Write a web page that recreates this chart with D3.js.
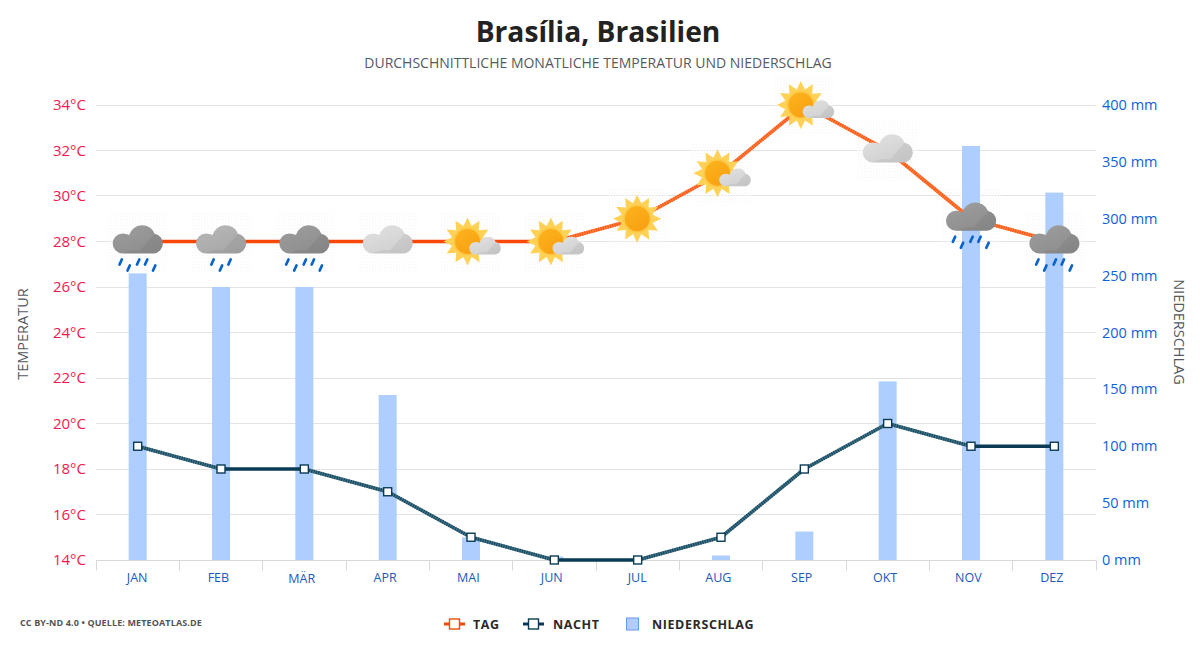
<!DOCTYPE html>
<html>
<head>
<meta charset="utf-8">
<script src="https://cdn.jsdelivr.net/npm/d3@7"></script>
<style>
  html, body { margin: 0; padding: 0; background: #fff; }
  text { font-family: "Open Sans", "Noto Sans", sans-serif; }
</style>
</head>
<body>
<div id="chart"></div>
<script>
var months = ["JAN", "FEB", "MÄR", "APR", "MAI", "JUN", "JUL", "AUG", "SEP", "OKT", "NOV", "DEZ"];
var dayTemp = [28, 28, 28, 28, 28, 28, 29, 31, 34, 32, 29, 28];
var nightTemp = [19, 18, 18, 17, 15, 14, 14, 15, 18, 20, 19, 19];
var rainfall = [252, 240, 240, 145, 20, 3, 0, 4, 25, 157, 364, 323];
var weather = ["rain5", "lightrain3", "rain5", "cloud", "partly", "partly", "sun", "partly", "partly", "cloud", "rain5", "rain5"];
var tempTicks = d3.range(14, 35, 2);
var rainTicks = d3.range(0, 401, 50);
var legendItems = ["TAG", "NACHT", "NIEDERSCHLAG"];

var width = 1200, height = 650;
var left = 96, right = 1096, top_ = 105, bottom = 560;

var svg = d3.select("#chart")
    .append("svg")
    .attr("width", width)
    .attr("height", height)
    .style("display", "block");

var defs = svg.append("defs");

function gradient(id, c1, c2) {
    var g = defs.append("linearGradient").attr("id", id)
        .attr("x1", 0).attr("y1", 0).attr("x2", 0.6).attr("y2", 1);
    g.append("stop").attr("offset", "0%").attr("stop-color", c1);
    g.append("stop").attr("offset", "100%").attr("stop-color", c2);
}
gradient("cloudDark", "#9e9e9e", "#8e8e8e");
gradient("cloudMid", "#b8b8b8", "#a8a8a8");
gradient("cloudLight", "#e2e2e2", "#d0d0d0");
gradient("sunDisc", "#fbb51e", "#f9a012");

// the faint dots behind each weather icon
var dots = defs.append("pattern").attr("id", "iconDots")
    .attr("width", 3).attr("height", 3).attr("patternUnits", "userSpaceOnUse");
dots.append("rect").attr("width", 1.5).attr("height", 1.5).attr("fill", "#f9f9f9");

var x = d3.scaleBand().domain(months).range([left, right]);
var yTemp = d3.scaleLinear().domain([14, 34]).range([bottom, top_]);
var yRain = d3.scaleLinear().domain([0, 400]).range([bottom, top_]);

// grid
svg.append("g")
    .selectAll("line")
    .data(tempTicks)
    .enter().append("line")
    .attr("x1", left)
    .attr("x2", right)
    .attr("y1", function(d) { return Math.floor(yTemp(d)) + 0.5; })
    .attr("y2", function(d) { return Math.floor(yTemp(d)) + 0.5; })
    .attr("stroke", "#e3e3e3");

svg.append("g")
    .selectAll("rect")
    .data(weather)
    .enter().append("rect")
    .attr("x", function(d, i) { return x(months[i]) + x.bandwidth() / 2 - 30; })
    .attr("y", function(d, i) { return yTemp(dayTemp[i]) - 30; })
    .attr("width", 60)
    .attr("height", 60)
    .attr("fill", "url(#iconDots)");

// bars
var barWidth = 18;
svg.append("g")
    .selectAll("rect")
    .data(rainfall)
    .enter().append("rect")
    .attr("x", function(d, i) { return x(months[i]) + x.bandwidth() / 2 - barWidth / 2; })
    .attr("y", function(d) { return yRain(d); })
    .attr("width", barWidth)
    .attr("height", function(d) { return bottom - yRain(d); })
    .attr("fill", "#aeceff");

// x axis
var xAxis = svg.append("g").attr("transform", "translate(0," + (bottom + 0.5) + ")");
xAxis.append("line").attr("x1", left).attr("x2", right).attr("stroke", "#d8d8d8");
xAxis.selectAll(".tick")
    .data(months.concat(["end"]))
    .enter().append("line")
    .attr("class", "tick")
    .attr("x1", function(d, i) { return Math.floor(left + i * x.step()) + 0.5; })
    .attr("x2", function(d, i) { return Math.floor(left + i * x.step()) + 0.5; })
    .attr("y1", 0)
    .attr("y2", 10)
    .attr("stroke", "#d8d8d8");
xAxis.selectAll(".mon")
    .data(months)
    .enter().append("text")
    .attr("class", "mon")
    .attr("x", function(d, i) { return x(d) + x.bandwidth() / 2 - (i == 0 || i == 6 ? 0.5 : 2.6); })
    .attr("y", function(d) { return d == "MÄR" ? 22 : 21; })
    .attr("text-anchor", "middle")
    .attr("font-size", 12.5)
    .attr("fill", "#2059b8")
    .text(function(d) { return d; });

// y labels
svg.append("g").selectAll("text")
    .data(tempTicks)
    .enter().append("text")
    .attr("x", 86)
    .attr("y", function(d) { return yTemp(d) + 5; })
    .attr("text-anchor", "end")
    .attr("font-size", 15)
    .attr("fill", "#f5174f")
    .text(function(d) { return d + "°C"; });

svg.append("g").selectAll("text")
    .data(rainTicks)
    .enter().append("text")
    .attr("x", 1102)
    .attr("y", function(d) { return yRain(d) + 5; })
    .attr("font-size", 14.5)
    .attr("fill", "#1260d8")
    .text(function(d) { return d + " mm"; });

svg.append("text")
    .attr("transform", "translate(28,334) rotate(-90)")
    .attr("text-anchor", "middle")
    .attr("font-size", 14.5)
    .attr("fill", "#555a60")
    .text("TEMPERATUR");

svg.append("text")
    .attr("transform", "translate(1174,332) rotate(90)")
    .attr("text-anchor", "middle")
    .attr("font-size", 14.5)
    .attr("fill", "#555a60")
    .text("NIEDERSCHLAG");

// lines, sloped parts look lighter and hatched in the original
function drawLine(values, dark, light, markerStroke) {
    var g = svg.append("g");
    var pts = values.map(function(v, i) { return [x(months[i]) + x.bandwidth() / 2, yTemp(v), v]; });
    d3.pairs(pts).forEach(function(p) {
        var flat = p[0][2] == p[1][2];
        var seg = d3.line()([p[0], p[1]]);
        g.append("path").attr("d", seg).attr("fill", "none")
            .attr("stroke", flat ? dark : light).attr("stroke-width", 3.6);
        if (!flat) {
            g.append("path").attr("d", seg).attr("fill", "none")
                .attr("stroke", dark).attr("stroke-width", 3.6)
                .attr("stroke-dasharray", "1 1.4").attr("opacity", 0.8);
        }
    });
    g.selectAll("rect")
        .data(pts)
        .enter().append("rect")
        .attr("x", function(d) { return d[0] - 4; })
        .attr("y", function(d) { return d[1] - 4; })
        .attr("width", 8)
        .attr("height", 8)
        .attr("fill", "#fff")
        .attr("stroke", markerStroke)
        .attr("stroke-width", 1.4);
}
drawLine(dayTemp, "#f9480a", "#ff7d3c", "#f9480a");
drawLine(nightTemp, "#0b3b54", "#3f7083", "#0b3b54");

// weather icons, local coordinates around the data point
function cloud(g, fill, dx, dy, s) {
    var c = g.append("g").attr("transform", "translate(" + dx + "," + dy + ") scale(" + s + ")").attr("fill", fill);
    c.append("path").attr("d",
        "M-15,12 A10,10 0 0 1 -15,-8 Q-11,-8 -8.5,-6.5 A13.5,13.5 0 0 1 17,-7.8 " +
        "A10,10 0 0 1 16,12 Z");
    c.append("path").attr("d", "M-15,12 Q-6,7 2,9 Q6,5 9,1 Q13,-3 17,-7.8 A10,10 0 0 1 16,12 Z")
        .attr("fill", "#000").attr("opacity", 0.05);
}

function sun(g, dx, dy) {
    var s = g.append("g").attr("transform", "translate(" + dx + "," + dy + ")");
    var pts = d3.range(24).map(function(i) {
        var a = i * Math.PI / 12 - Math.PI / 2;
        var r = i % 2 ? 16 : 24;
        return [r * Math.cos(a), r * Math.sin(a)];
    });
    s.append("path").attr("d", d3.line()(pts) + "Z").attr("fill", "#ffd257");
    s.append("circle").attr("r", 13.2).attr("fill", "url(#sunDisc)").attr("stroke", "#fdc846").attr("stroke-width", 1.6);
}

function rain(g, n, fill) {
    var dropX = n == 5 ? [-17, -9, 0.5, 8.5, 16.5] : [-8.5, 0, 8.5];
    var dropY = n == 5 ? [20.5, 26.5, 20.5, 20.5, 26.5] : [20.5, 26.5, 20.5];
    dropX.forEach(function(dx, i) {
        g.append("line")
            .attr("x1", dx - 1.2).attr("y1", dropY[i] + 2.6)
            .attr("x2", dx + 1.2).attr("y2", dropY[i] - 2.6)
            .attr("stroke", fill).attr("stroke-width", 2.6).attr("stroke-linecap", "round");
    });
}

var icons = svg.append("g").selectAll("g")
    .data(weather)
    .enter().append("g")
    .attr("transform", function(d, i) {
        return "translate(" + (x(months[i]) + x.bandwidth() / 2) + "," + yTemp(dayTemp[i]) + ")";
    });

icons.each(function(d) {
    var g = d3.select(this);
    if (d == "rain5") { rain(g, 5, "#0a64c8"); cloud(g, "url(#cloudDark)", 0, 0, 1); }
    if (d == "lightrain3") { rain(g, 3, "#0a64c8"); cloud(g, "url(#cloudMid)", 0, 0, 1); }
    if (d == "cloud") { cloud(g, "url(#cloudLight)", 0, 0, 1); }
    if (d == "sun") { sun(g, -0.5, 0); }
    if (d == "partly") { sun(g, -3.5, 0); cloud(g, "url(#cloudLight)", 14, 5.5, 0.63); }
});

// titles
svg.append("text")
    .attr("x", 598)
    .attr("y", 42)
    .attr("text-anchor", "middle")
    .attr("font-size", 28.2)
    .attr("font-weight", 700)
    .attr("fill", "#222")
    .text("Brasília, Brasilien");

svg.append("text")
    .attr("x", 598)
    .attr("y", 67.5)
    .attr("text-anchor", "middle")
    .attr("font-size", 14)
    .attr("fill", "#555a60")
    .text("DURCHSCHNITTLICHE MONATLICHE TEMPERATUR UND NIEDERSCHLAG");

svg.append("text")
    .attr("x", 20)
    .attr("y", 626)
    .attr("font-size", 9)
    .attr("font-weight", 700)
    .attr("letter-spacing", 0.12)
    .attr("fill", "#555")
    .text("CC BY-ND 4.0 • QUELLE: METEOATLAS.DE");

// legend
var legendY = 624;
var legendX = [444, 523, 626];
var textX = [473, 553, 652];
legendItems.forEach(function(name, i) {
    var g = svg.append("g");
    if (i < 2) {
        var col = i == 0 ? "#f9480a" : "#0b3b54";
        g.append("line").attr("x1", legendX[i]).attr("x2", legendX[i] + 21)
            .attr("y1", legendY).attr("y2", legendY)
            .attr("stroke", col).attr("stroke-width", 3);
        g.append("rect").attr("x", legendX[i] + 5.5).attr("y", legendY - 5)
            .attr("width", 10).attr("height", 10)
            .attr("fill", "#fff").attr("stroke", col).attr("stroke-width", 1.4);
    } else {
        g.append("rect").attr("x", legendX[i] + 0.5).attr("y", legendY - 6)
            .attr("width", 12).attr("height", 12)
            .attr("fill", "#aeceff").attr("stroke", "#5f9bf0");
    }
    g.append("text")
        .attr("x", textX[i])
        .attr("y", legendY + 5)
        .attr("font-size", 12.5)
        .attr("font-weight", 700)
        .attr("letter-spacing", 0.6)
        .attr("fill", "#2a2a2a")
        .text(name);
});
</script>
</body>
</html>
